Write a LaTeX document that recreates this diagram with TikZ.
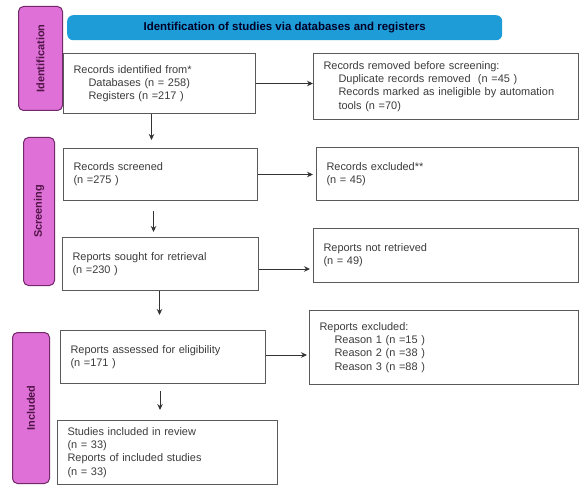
\documentclass[tikz,border=0pt]{standalone}
\usepackage{fontspec}
\setmainfont{Liberation Sans}
\usetikzlibrary{arrows.meta,calc}
\definecolor{bannerblue}{RGB}{30,156,215}
\definecolor{sidefill}{RGB}{222,112,215}
\definecolor{sideline}{RGB}{115,40,105}
\definecolor{sidetext}{RGB}{80,20,70}
\definecolor{boxline}{RGB}{90,90,90}
\definecolor{txt}{RGB}{60,60,60}
\tikzset{
  every node/.style={font=\fontsize{11}{13.3}\selectfont, text=txt},
  flowbox/.style={draw=boxline, line width=1bp, fill=white, anchor=north west,
     align=left, inner xsep=10bp, inner ysep=0bp, text width=#1},
  sidelabel/.style={draw=sideline, line width=1bp, fill=sidefill, rounded corners=5bp,
     anchor=north west, inner sep=0bp},
  sidetxt/.style={rotate=90, font=\bfseries\fontsize{11}{13}\selectfont, text=sidetext},
  arr/.style={draw=black!80, line width=1bp, -{Stealth[length=6bp,width=5.5bp]}},
}
\newcommand{\ind}{\hspace*{15bp}}
\begin{document}
\begin{tikzpicture}[x=1bp,y=-1bp]
\useasboundingbox (0,0) rectangle (579,486);
% banner
\node[fill=bannerblue, rounded corners=6bp, anchor=north west, minimum width=435bp,
  minimum height=25bp, inner sep=0bp, font=\bfseries\fontsize{11.5}{13}\selectfont,
  text=black!85!blue] (banner) at (67,15) {Identification of studies via databases and registers};
% side labels
\node[sidelabel, minimum width=44bp, minimum height=104bp] (sid) at (18,6) {};
\node[sidetxt] at (sid.center) {Identification};
\node[sidelabel, minimum width=31bp, minimum height=148bp] (ssc) at (23,137) {};
\node[sidetxt] at (ssc.center) {Screening};
\node[sidelabel, minimum width=37bp, minimum height=151bp] (sin) at (12,332) {};
\node[sidetxt] at (sin.center) {Included};
% left column
\node[flowbox=172bp, minimum width=192bp, minimum height=60bp] (ident) at (63,53)
  {Records identified from*\\\ind Databases (n = 258)\\\ind Registers (n =217 )};
\node[flowbox=174bp, minimum width=194bp, minimum height=52bp] (scr) at (63,148)
  {Records screened\\(n =275 )};
\node[flowbox=176bp, minimum width=196bp, minimum height=53bp] (sought) at (62,237)
  {Reports sought for retrieval\\(n =230 )};
\node[flowbox=185bp, minimum width=205bp, minimum height=53bp] (assess) at (60,330)
  {Reports assessed for eligibility\\(n =171 )};
\node[flowbox=200bp, minimum width=220bp, minimum height=64bp] (incl) at (57,420)
  {Studies included in review\\(n = 33)\\Reports of included studies\\(n = 33)};
% right column
\node[flowbox=245bp, minimum width=265bp, minimum height=66bp] (removed) at (313,53)
  {Records removed before screening:\\\ind Duplicate records removed\ \ (n =45 )\\\ind Records marked as ineligible by automation\\\ind tools (n =70)};
\node[flowbox=242bp, minimum width=262bp, minimum height=53bp] (excl) at (316,147)
  {Records excluded**\\(n = 45)};
\node[flowbox=245bp, minimum width=265bp, minimum height=54bp] (notret) at (313,228)
  {Reports not retrieved\\(n = 49)};
\node[flowbox=249bp, minimum width=269bp, minimum height=74bp] (rexcl) at (309,310)
  {Reports excluded:\\\ind Reason 1 (n =15 )\\\ind Reason 2 (n =38 )\\\ind Reason 3 (n =88 )};
% vertical arrows
\draw[arr, shorten >=8bp] ([xshift=-8bp]ident.south) -- ([xshift=-8bp]ident.south |- scr.north);
\draw[arr, shorten <=10bp, shorten >=5bp] ([xshift=-7bp]scr.south) -- ([xshift=-7bp]scr.south |- sought.north);
\draw[arr, shorten >=15bp] ([xshift=-1bp]sought.south) -- ([xshift=-1bp]sought.south |- assess.north);
\draw[arr, shorten <=7bp, shorten >=10bp] ([xshift=-3bp]assess.south) -- ([xshift=-3bp]assess.south |- incl.north);
% horizontal arrows
\draw[arr] (ident.east) -- (ident.east -| removed.west);
\draw[arr, shorten >=3bp] (scr.east) -- (scr.east -| excl.west);
\draw[arr, shorten >=3bp] ([yshift=-5bp]sought.east) -- ([yshift=-5bp]sought.east -| notret.west);
\draw[arr, shorten >=2bp] ([yshift=2bp]assess.east) -- ([yshift=2bp]assess.east -| rexcl.west);
\end{tikzpicture}
\end{document}
